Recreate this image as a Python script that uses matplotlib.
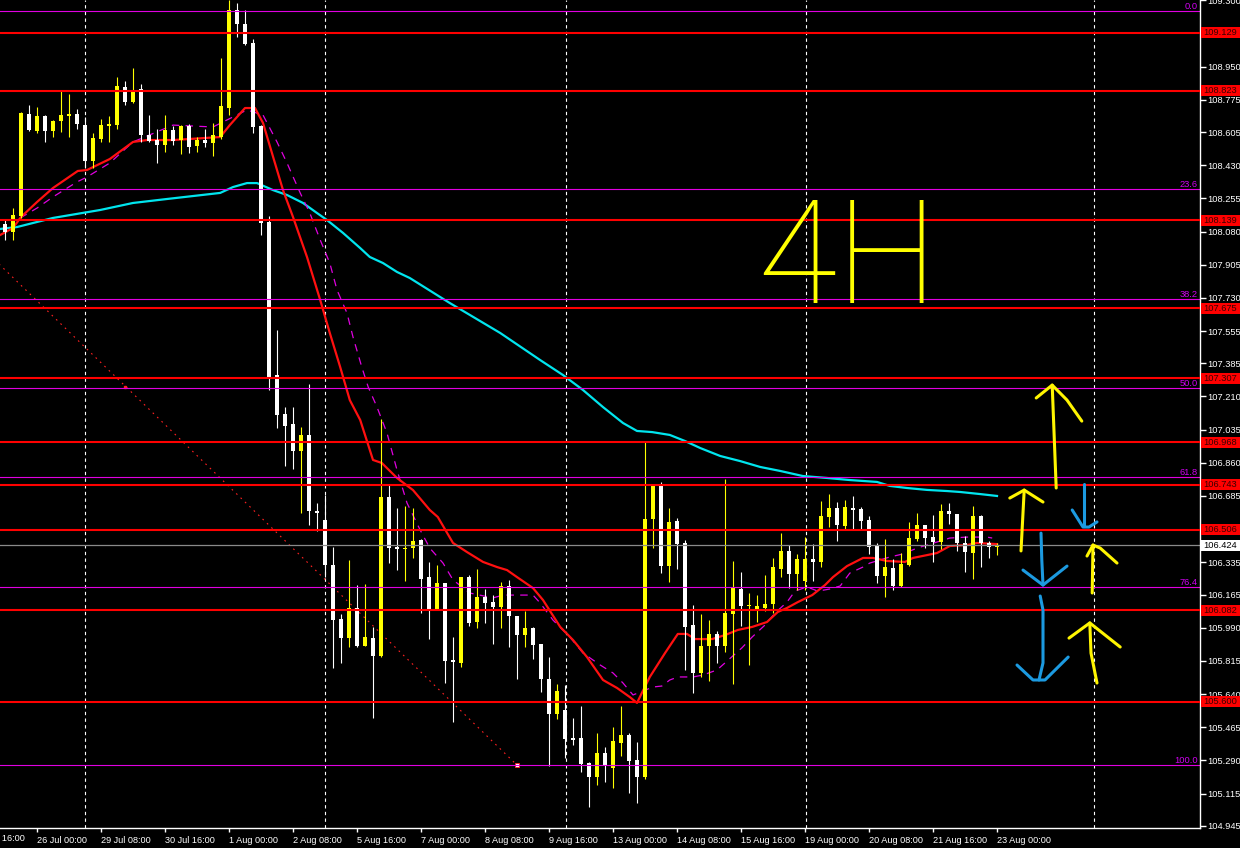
import matplotlib
matplotlib.use('Agg')
import matplotlib.pyplot as plt
import matplotlib.transforms as mtransforms
from matplotlib.patches import Rectangle
import numpy as np

# ---------------- data (4H candles, index 0 = 25 Jul 08:00) ----------------
opens = [108.120, 108.080, 108.162, 108.700, 108.613, 108.690, 108.613, 108.665, 108.692, 108.700,
         108.642, 108.454, 108.570, 108.639, 108.642, 108.841, 108.766, 108.832, 108.590, 108.563,
         108.537, 108.616, 108.563, 108.637, 108.533, 108.563, 108.549, 108.581, 108.734, 109.249,
         109.175, 109.073, 108.637, 108.131, 107.323, 107.117, 107.065, 106.924, 107.007, 106.606,
         106.558, 106.321, 106.034, 105.937, 106.092, 105.895, 105.937, 105.842, 106.681, 106.412,
         106.405, 106.412, 106.452, 106.259, 106.087, 106.227, 105.819, 105.805, 106.259, 106.022,
         106.150, 106.127, 106.097, 106.210, 106.053, 105.951, 105.990, 105.904, 105.719, 105.535,
         105.556, 105.406, 105.406, 105.278, 105.204, 105.327, 105.251, 105.383, 105.424, 105.292,
         105.204, 106.563, 106.738, 106.315, 106.553, 106.435, 106.004, 105.753, 105.893, 105.957,
         105.893, 106.062, 106.196, 106.104, 106.088, 106.092, 106.115, 106.300, 106.395, 106.273,
         106.238, 106.352, 106.338, 106.575, 106.621, 106.528, 106.621, 106.614, 106.558, 106.421,
         106.263, 106.305, 106.210, 106.321, 106.458, 106.532, 106.468, 106.444, 106.606, 106.590,
         106.438, 106.386, 106.579, 106.435, 106.417]
highs = [108.141, 108.203, 108.713, 108.748, 108.739, 108.695, 108.669, 108.822, 108.804, 108.725,
         108.683, 108.598, 108.674, 108.690, 108.894, 108.875, 108.941, 108.859, 108.695, 108.621,
         108.695, 108.637, 108.642, 108.646, 108.581, 108.621, 108.651, 108.994, 109.300, 109.284,
         109.249, 109.094, 108.640, 108.162, 107.561, 107.156, 107.156, 107.051, 107.276, 106.646,
         106.690, 106.417, 106.062, 106.347, 106.215, 106.220, 105.995, 107.089, 106.748, 106.623,
         106.634, 106.623, 106.458, 106.338, 106.320, 106.227, 105.943, 106.259, 106.268, 106.300,
         106.194, 106.162, 106.233, 106.242, 106.053, 106.080, 105.995, 105.904, 105.837, 105.693,
         105.687, 105.512, 105.577, 105.283, 105.432, 105.359, 105.464, 105.577, 105.436, 105.388,
         106.971, 106.748, 106.759, 106.620, 106.567, 106.453, 106.110, 106.062, 106.030, 105.972,
         106.775, 106.342, 106.285, 106.171, 106.162, 106.268, 106.356, 106.488, 106.426, 106.379,
         106.467, 106.431, 106.658, 106.695, 106.653, 106.662, 106.685, 106.627, 106.579, 106.435,
         106.458, 106.352, 106.384, 106.547, 106.595, 106.532, 106.584, 106.643, 106.648, 106.590,
         106.474, 106.632, 106.584, 106.449, 106.435]
lows = [108.036, 108.036, 108.150, 108.613, 108.602, 108.554, 108.581, 108.607, 108.581, 108.621,
        108.419, 108.414, 108.554, 108.554, 108.620, 108.748, 108.760, 108.554, 108.554, 108.444,
        108.502, 108.537, 108.489, 108.496, 108.502, 108.528, 108.479, 108.567, 108.695, 109.109,
        109.065, 108.602, 108.062, 107.244, 107.044, 106.843, 106.827, 106.597, 106.532, 106.502,
        106.259, 105.775, 105.805, 105.890, 105.890, 105.895, 105.515, 105.837, 106.330, 106.294,
        106.238, 106.359, 106.066, 105.928, 106.083, 105.696, 105.490, 105.781, 106.000, 105.990,
        106.016, 105.902, 105.986, 105.890, 105.717, 105.886, 105.825, 105.652, 105.260, 105.506,
        105.300, 105.371, 105.230, 105.045, 105.160, 105.177, 105.146, 105.314, 105.119, 105.063,
        105.190, 106.409, 106.280, 106.233, 106.300, 105.767, 105.647, 105.728, 105.710, 105.805,
        105.863, 105.693, 105.999, 105.793, 106.022, 106.080, 106.069, 106.259, 106.201, 106.189,
        106.189, 106.238, 106.312, 106.523, 106.449, 106.511, 106.505, 106.511, 106.377, 106.227,
        106.154, 106.189, 106.203, 106.315, 106.449, 106.412, 106.338, 106.405, 106.537, 106.396,
        106.285, 106.245, 106.312, 106.356, 106.373]
closes = [108.080, 108.168, 108.704, 108.616, 108.690, 108.613, 108.664, 108.695, 108.700, 108.648,
          108.454, 108.576, 108.642, 108.648, 108.848, 108.766, 108.827, 108.590, 108.560, 108.537,
          108.616, 108.560, 108.637, 108.528, 108.563, 108.549, 108.590, 108.743, 109.249, 109.175,
          109.070, 108.634, 108.125, 107.313, 107.112, 107.054, 106.924, 107.007, 106.606, 106.597,
          106.321, 106.030, 105.937, 106.092, 105.895, 105.942, 105.842, 106.681, 106.412, 106.407,
          106.409, 106.447, 106.247, 106.087, 106.227, 105.816, 105.807, 106.259, 106.016, 106.154,
          106.118, 106.097, 106.210, 106.053, 105.951, 105.990, 105.899, 105.717, 105.533, 105.656,
          105.402, 105.397, 105.271, 105.204, 105.327, 105.265, 105.392, 105.424, 105.288, 105.204,
          106.562, 106.738, 106.315, 106.548, 106.431, 105.995, 105.753, 105.893, 105.957, 105.893,
          106.066, 106.201, 106.104, 106.109, 106.106, 106.115, 106.310, 106.395, 106.273, 106.352,
          106.352, 106.338, 106.579, 106.621, 106.532, 106.625, 106.611, 106.553, 106.417, 106.263,
          106.308, 106.210, 106.326, 106.463, 106.532, 106.463, 106.444, 106.606, 106.590, 106.438,
          106.391, 106.579, 106.435, 106.417, 106.426]

# moving averages (candle index, price)
red_ma_x = [-0.6, 1, 2, 4, 6, 9.1, 10.25, 13.1, 16, 17.75, 21, 26.9, 28.1, 30, 31.25, 32.25, 34.75, 36,
            37.75, 39.4, 40.6, 41.9, 43.1, 44.4, 46, 47.1, 49, 51, 53.1, 54.1, 56, 57.75, 59.75, 61.5,
            62.75, 64, 66, 67.25, 69.4, 71, 72.75, 74.75, 76.5, 78.1, 79, 79.6, 80.6, 82.5, 84.1, 85.25,
            86.25, 88.4, 90, 91.6, 93.4, 95.25, 96.6, 97.75, 99.1, 100.9, 102.5, 103.5, 105.25, 107.25,
            108.5, 110.25, 112.5, 113.5, 115.25, 116.5, 118.1, 120.25, 121.5, 124]
red_ma_y = [108.062, 108.099, 108.157, 108.236, 108.310, 108.400, 108.405, 108.463, 108.553, 108.563,
            108.563, 108.579, 108.642, 108.732, 108.732, 108.653, 108.299, 108.157, 107.946, 107.719,
            107.545, 107.365, 107.191, 107.086, 106.875, 106.859, 106.780, 106.716, 106.611, 106.574,
            106.437, 106.389, 106.337, 106.310, 106.294, 106.257, 106.199, 106.136, 105.994, 105.925,
            105.835, 105.714, 105.672, 105.624, 105.593, 105.645, 105.730, 105.856, 105.957, 105.957,
            105.930, 105.930, 105.951, 105.978, 105.994, 106.020, 106.073, 106.094, 106.125, 106.162,
            106.215, 106.257, 106.315, 106.358, 106.358, 106.342, 106.337, 106.358, 106.373, 106.384,
            106.421, 106.426, 106.437, 106.431]
mag_ma_x = [1.9, 4, 6, 9, 10.25, 13.1, 16, 21, 23.5, 26, 28.5, 30.25, 32.25, 34, 35.25, 36.9, 38.1,
            39.4, 40.6, 41.5, 42.75, 43.5, 44.6, 45.4, 46.5, 47.75, 49, 50.25, 51.9, 53.1, 54.75, 56,
            58.1, 61, 62.25, 66, 66.9, 68.5, 70.6, 72.25, 74.4, 76, 77.25, 78.5, 81, 82.1, 83.1, 84.1,
            86, 87.25, 89, 90.4, 92.1, 93.4, 95, 96.25, 97.75, 98.75, 100.25, 101.6, 103.1, 104.4,
            105.6, 107.25, 108.1, 110.6, 112.25, 114, 115.25, 116.5, 118.1, 120.25, 122.75, 123.4]
mag_ma_y = [108.152, 108.204, 108.263, 108.342, 108.368, 108.442, 108.553, 108.642, 108.637, 108.632,
            108.685, 108.722, 108.695, 108.553, 108.442, 108.284, 108.178, 108.036, 107.914, 107.772,
            107.650, 107.524, 107.365, 107.260, 107.154, 107.017, 106.822, 106.648, 106.505, 106.410,
            106.331, 106.242, 106.173, 106.147, 106.162, 106.162, 106.120, 106.030, 105.941, 105.856,
            105.793, 105.751, 105.698, 105.635, 105.677, 105.682, 105.714, 105.730, 105.730, 105.740,
            105.767, 105.819, 105.883, 105.941, 106.004, 106.067, 106.125, 106.183, 106.205, 106.183,
            106.194, 106.210, 106.278, 106.310, 106.331, 106.363, 106.379, 106.410, 106.426, 106.442,
            106.463, 106.468, 106.468, 106.463]
cyan_ma_x = [-0.6, 1.5, 6, 11.9, 16, 20.25, 26.9, 28.5, 30.25, 31.5, 33.5, 35.25, 37.25, 39, 40.25,
             42.25, 44.4, 45.6, 47.25, 49, 50.6, 55.6, 61.9, 66.9, 69.75, 72.25, 74.75, 77.25, 79,
             80.9, 83.1, 85, 86.9, 89.4, 91.9, 94.4, 96.9, 99.75, 102.75, 105.6, 109, 110.6, 112.75,
             115.25, 117.75, 119.4, 121.9, 124]
cyan_ma_y = [108.094, 108.104, 108.152, 108.194, 108.231, 108.252, 108.284, 108.315, 108.336, 108.336,
             108.299, 108.273, 108.231, 108.178, 108.141, 108.073, 107.993, 107.946, 107.914, 107.867,
             107.835, 107.703, 107.545, 107.402, 107.323, 107.244, 107.154, 107.070, 107.028, 107.022,
             107.007, 106.975, 106.938, 106.896, 106.869, 106.838, 106.817, 106.790, 106.780, 106.769,
             106.759, 106.738, 106.727, 106.717, 106.711, 106.706, 106.695, 106.685]

# horizontal levels
red_levels = [109.129, 108.823, 108.139, 107.675, 107.307, 106.968, 106.743, 106.506, 106.082, 105.600]
fib_labels = ["0.0", "23.6", "38.2", "50.0", "61.8", "76.4", "100.0"]
fib_prices = [109.242, 108.303, 107.723, 107.253, 106.784, 106.204, 105.265]
fib_trend_x = [-33.4, 64]
fib_trend_y = [109.242, 105.265]
current_price = 106.424

# axes ticks
y_ticks = [109.300, 108.950, 108.775, 108.605, 108.430, 108.255, 108.080, 107.905, 107.730,
           107.555, 107.385, 107.210, 107.035, 106.860, 106.685, 106.335, 106.165, 105.990,
           105.815, 105.640, 105.465, 105.290, 105.115, 104.945]
x_tick_idx = [-4, 4, 12, 20, 28, 36, 44, 52, 60, 68, 76, 84, 92, 100, 108, 116, 124]
x_tick_labels = ["24 Jul 16:00", "26 Jul 00:00", "29 Jul 08:00", "30 Jul 16:00", "1 Aug 00:00",
                 "2 Aug 08:00", "5 Aug 16:00", "7 Aug 00:00", "8 Aug 08:00", "9 Aug 16:00",
                 "13 Aug 00:00", "14 Aug 08:00", "15 Aug 16:00", "19 Aug 00:00", "20 Aug 08:00",
                 "21 Aug 16:00", "23 Aug 00:00"]
week_grid_idx = [10, 40, 70.1, 100.1, 136.1]

# hand-drawn annotations (candle index, price)
yellow_strokes = [
    ([131.4, 130.9], [106.727, 107.270]),
    ([128.9, 130.9, 132.75, 134.6], [107.202, 107.270, 107.191, 107.080]),
    ([127.0, 127.4], [106.395, 106.716]),
    ([125.6, 127.4, 129.75], [106.674, 106.716, 106.653]),
    ([135.9, 136.0], [106.173, 106.426]),
    ([135.25, 136.0, 136.9, 139.0], [106.368, 106.426, 106.410, 106.331]),
    ([136.5, 135.75, 135.6], [105.698, 105.856, 106.015]),
    ([133.0, 135.6, 139.4], [105.935, 106.015, 105.888]),
]
blue_strokes = [
    ([134.9, 134.9], [106.748, 106.526]),
    ([133.4, 134.75, 135.5, 136.5], [106.611, 106.521, 106.521, 106.548]),
    ([129.5, 129.6, 129.75], [106.489, 106.347, 106.215]),
    ([127.25, 129.75, 132.75], [106.294, 106.215, 106.315]),
    ([129.4, 129.75, 129.75, 129.25], [106.157, 106.083, 105.804, 105.714]),
    ([126.5, 128.5, 130.0, 132.9], [105.793, 105.714, 105.714, 105.835]),
]

# ---------------- figure ----------------
plt.rcParams['font.family'] = ['Liberation Sans', 'DejaVu Sans']
W, H, DPI = 1240, 848, 100
fig = plt.figure(figsize=(W / DPI, H / DPI), dpi=DPI, facecolor='black')
ax = fig.add_axes([0, 20 / H, 1200 / W, 828 / H], facecolor='black')

YTOP, YBOT = 109.302, 104.933
XMIN, XMAX = -0.625, 149.375
px_price = (YTOP - YBOT) / 828.0
AX_FS = 6.7
X_FS = 6.6

for s in ['top', 'left']:
    ax.spines[s].set_visible(False)
for s in ['right', 'bottom']:
    ax.spines[s].set_color('white')
    ax.spines[s].set_linewidth(1)

# weekly dashed grid
for g in week_grid_idx:
    ax.axvline(g, color='white', lw=0.8, ls=(0, (3, 3)), zorder=0.5)

# moving averages
ax.plot(cyan_ma_x, cyan_ma_y, color='#00E5EE', lw=1.6, zorder=1)
ax.plot(mag_ma_x, mag_ma_y, color='#E000E0', lw=0.9, ls=(0, (6, 5)), zorder=1)
ax.plot(red_ma_x, red_ma_y, color='#FF1010', lw=1.6, zorder=1.1)

# fib trend line
ax.plot(fib_trend_x, fib_trend_y, color='#FF2020', lw=0.8, ls=(0, (1.5, 4)), zorder=1)
ax.plot([fib_trend_x[1]], [fib_trend_y[1]], marker='s', ms=3, mfc='white', mec='#FF2020', mew=0.6, zorder=2)
ax.plot([15], [107.26], marker='s', ms=2, mfc='#FF2020', mec='#FF2020', zorder=2)

# candles
o = np.array(opens); c = np.array(closes); h = np.array(highs); l = np.array(lows)
idx = np.arange(len(o))
up = c >= o
cols = np.where(up, '#FFFF00', '#FFFFFF')
ax.vlines(idx, l, h, colors=cols, lw=0.8, zorder=2)
bottoms = np.minimum(o, c)
heights = np.maximum(np.abs(c - o), 1.2 * px_price)
ax.bar(idx, heights, bottom=bottoms, width=0.62, color=cols, linewidth=0, zorder=2.1)

# levels
for p in fib_prices:
    ax.axhline(p, color='#E000E0', lw=0.8, zorder=2.5)
ax.axhline(current_price, color='#8A8A8A', lw=0.9, zorder=2.5)
for p in red_levels:
    ax.axhline(p, color='#FF0000', lw=1.5, zorder=2.6)

# hand drawn arrows
for xs, ys in yellow_strokes:
    ax.plot(xs, ys, color='#FFF500', lw=2.2, solid_capstyle='round', solid_joinstyle='round', zorder=4)
for xs, ys in blue_strokes:
    ax.plot(xs, ys, color='#1C9AE0', lw=2.2, solid_capstyle='round', solid_joinstyle='round', zorder=4)

# 4H text
ax.text(105.3, 107.915, "4H", color='#FFFF00', fontsize=104, family='Roboto', fontweight=100,
        ha='center', va='center', zorder=4)

# y axis ticks
ax.yaxis.tick_right()
ax.set_yticks(y_ticks)
ax.set_yticklabels([f"{v:.3f}" for v in y_ticks])
ax.tick_params(axis='y', colors='white', length=4, width=1, pad=1.5, labelsize=AX_FS, direction='out')

# x axis ticks
ax.set_xticks(x_tick_idx)
ax.set_xticklabels(x_tick_labels)
ax.tick_params(axis='x', colors='white', length=3, width=1, pad=3, labelsize=X_FS, direction='out')
for t in ax.get_xticklabels():
    t.set_ha('left')

# limits after ticks (set_xticks would widen the view)
ax.set_xlim(XMIN, XMAX)
ax.set_ylim(YBOT, YTOP)

# first, partly hidden date label at the left edge
bx = mtransforms.blended_transform_factory(ax.transData, ax.transAxes)
ax.text(x_tick_idx[0] + 0.2, -0.0078, x_tick_labels[0], transform=bx, color='white', fontsize=X_FS,
        ha='left', va='top', clip_on=False)

# right-side labels
btr = mtransforms.blended_transform_factory(ax.transAxes, ax.transData)
box_w = 40.0 / 1200
box_h = 11 * px_price
for p in red_levels:
    ax.add_patch(Rectangle((1.0012, p - box_h / 2), box_w, box_h, transform=btr, fc='#FF0000',
                           ec='none', clip_on=False, zorder=5))
    ax.text(1.0025, p, f"{p:.3f}", transform=btr, color='#3A0000', fontsize=AX_FS, ha='left',
            va='center', clip_on=False, zorder=6)
ax.add_patch(Rectangle((1.0012, current_price - box_h / 2), box_w, box_h, transform=btr, fc='white',
                       ec='none', clip_on=False, zorder=5))
ax.text(1.0025, current_price, f"{current_price:.3f}", transform=btr, color='black', fontsize=AX_FS,
        ha='left', va='center', clip_on=False, zorder=6)
for lab, p in zip(fib_labels, fib_prices):
    ax.text(0.998, p + 0.3 * px_price, lab, transform=btr, color='#D000F0', fontsize=AX_FS, ha='right',
            va='bottom', zorder=6)

fig.savefig('out.png', dpi=DPI, facecolor='black')
